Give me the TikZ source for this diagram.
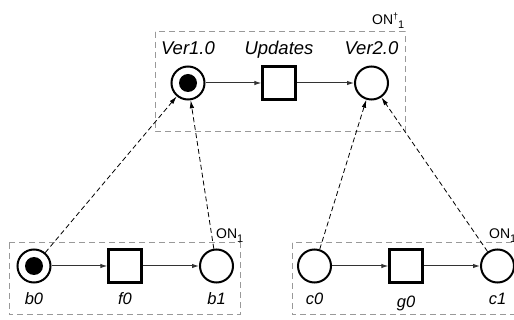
\documentclass[tikz,border=0pt]{standalone}
\usepackage{fontspec}
\setmainfont{Liberation Sans}
\usetikzlibrary{arrows.meta}
\begin{document}
\begin{tikzpicture}[x=1pt,y=-1pt,
 place/.style={circle,draw,line width=2pt,minimum size=33pt,inner sep=0pt},
 trans/.style={rectangle,draw,line width=2.3pt,minimum size=33pt,inner sep=0pt},
 token/.style={circle,fill,minimum size=18pt,inner sep=0pt},
 lab/.style={font=\fontsize{18.5}{18.5}\selectfont\itshape,anchor=base,inner sep=0pt},
 blab/.style={font=\fontsize{16.5}{16.5}\selectfont\itshape,anchor=base,inner sep=0pt},
 flow/.style={draw=black!80,line width=1pt,-{Latex[length=7pt,width=4.5pt]}},
 map/.style={draw,line width=0.8pt,dash pattern=on 5pt off 3pt,-{Latex[length=8pt,width=4.5pt]}},
 net/.style={draw=black!40,line width=1pt,dash pattern=on 6pt off 4pt},
 onlab/.style={font=\fontsize{14}{14}\selectfont,anchor=base west,inner sep=0pt}]
\clip (0,0) rectangle (514,320);
\fill[white] (0,0) rectangle (514,320);
% net boxes
\draw[net] (155,32) rectangle (405,132);
\draw[net] (9,243) rectangle (240,315);
\draw[net] (292,243) rectangle (530,315);
% top net
\node[place] (v1) at (188,83) {};
\node[token] (v1tok) at (v1) {};
\node[trans] (up) at (279,83) {};
\node[place] (v2) at (371.5,83) {};
\node[lab] (v1l) at (188,55) {Ver1.0};
\node[lab] (upl) at (279,55) {Updates};
\node[lab] (v2l) at (371.5,55) {Ver2.0};
\node[onlab] (ontop) at (372,25) {ON\raisebox{5pt}{\fontsize{9}{9}\selectfont †}\raisebox{-4pt}{\fontsize{11}{11}\selectfont 1}};
% bottom left net
\node[place] (b0) at (34,266) {};
\node[token] (b0tok) at (b0) {};
\node[trans] (f0) at (125,266) {};
\node[place] (b1) at (216.5,266) {};
\node[blab] (b0l) at (34,305) {b0};
\node[blab] (f0l) at (125,305) {f0};
\node[blab] (b1l) at (216.5,305) {b1};
\node[onlab] (onl) at (216,239) {ON\raisebox{-4pt}{\fontsize{11}{11}\selectfont 1}};
% bottom right net
\node[place] (c0) at (314.5,266) {};
\node[trans] (g0) at (406,266) {};
\node[place] (c1) at (497.5,266) {};
\node[blab] (c0l) at (314.5,305) {c0};
\node[blab] (g0l) at (406,308) {g0};
\node[blab] (c1l) at (497.5,305) {c1};
\node[onlab] (onr) at (489,239) {ON\raisebox{-4pt}{\fontsize{11}{11}\selectfont 1}};
% flow arcs
\draw[flow] (v1) -- (up);
\draw[flow] (up) -- (v2);
\draw[flow] (b0) -- (f0);
\draw[flow] (f0) -- (b1);
\draw[flow] (c0) -- (g0);
\draw[flow] (g0) -- (c1);
% mappings
\draw[map] (b0) -- (v1);
\draw[map] (b1) -- (v1);
\draw[map] (c0) -- (v2);
\draw[map] (c1) -- (v2);
\end{tikzpicture}
\end{document}
